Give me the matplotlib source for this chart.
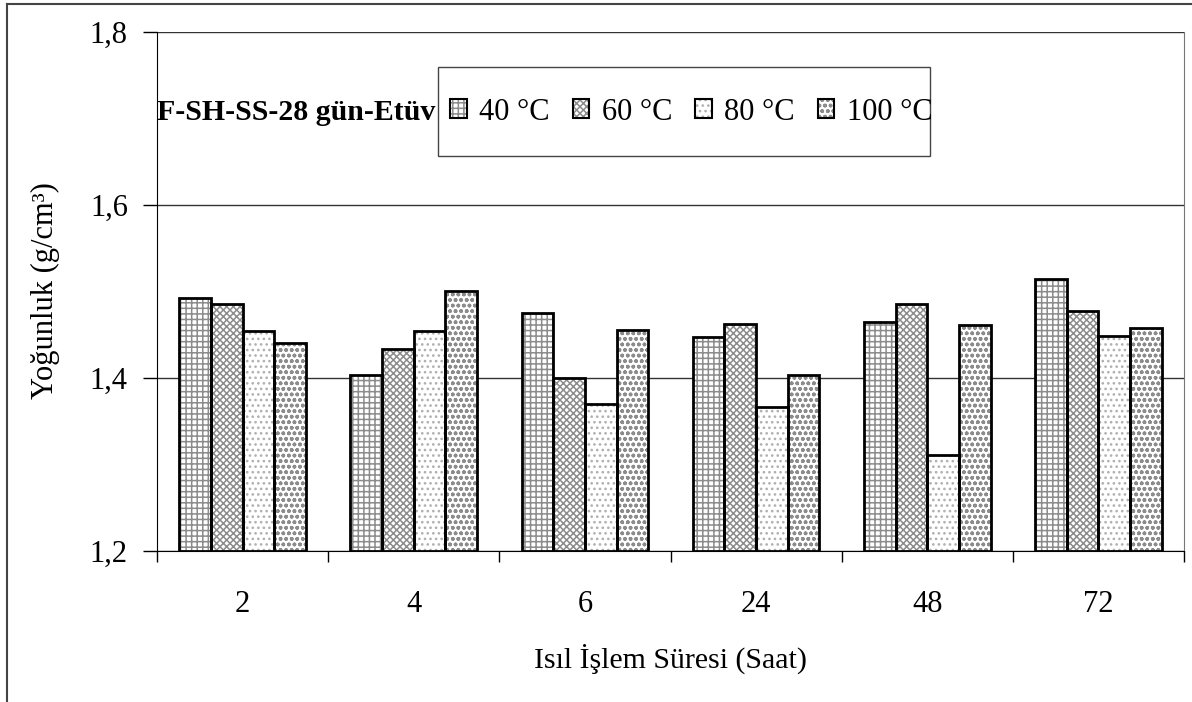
import numpy as np
import matplotlib
matplotlib.use("Agg")
import matplotlib.pyplot as plt
from matplotlib.patches import Rectangle, Patch
from matplotlib.lines import Line2D

plt.rcParams['font.family'] = ['Liberation Serif', 'DejaVu Serif']
plt.rcParams['hatch.linewidth'] = 1.1

# data
saat = ['2', '4', '6', '24', '48', '72']
seriler = ['40 °C', '60 °C', '80 °C', '100 °C']
t40 = [1.493, 1.403, 1.475, 1.447, 1.465, 1.514]
t60 = [1.486, 1.433, 1.400, 1.463, 1.486, 1.477]
t80 = [1.454, 1.454, 1.370, 1.366, 1.311, 1.449]
t100 = [1.440, 1.500, 1.456, 1.403, 1.461, 1.458]
degerler = [t40, t60, t80, t100]

# look of each series: hatch, hatch colour
desen = [('+++', '#8c8c8c'), ('xxxxx', '#8c8c8c'), ('...', '#b0b0b0'), ('ooo', '#8c8c8c')]

W, H = 1192, 702
fig = plt.figure(figsize=(W / 100, H / 100), dpi=100)
ax = fig.add_axes([157 / W, 1 - 551 / H, (1184 - 157) / W, (551 - 32) / H])

x = np.arange(len(saat))
bw = 0.185
for i, vals in enumerate(degerler):
    pos = x + (i - 1.5) * bw
    h = [v - 1.2 for v in vals]
    hatch, hc = desen[i]
    ax.bar(pos, h, bw, bottom=1.2, color='white', edgecolor=hc, hatch=hatch,
           linewidth=0, zorder=2)
    ax.bar(pos, h, bw, bottom=1.2, fill=False, edgecolor='black', linewidth=2,
           zorder=3)

ax.set_xlim(-0.5, len(saat) - 0.5)
ax.set_ylim(1.2, 1.8)
ax.set_yticks([1.2, 1.4, 1.6, 1.8])
ax.set_yticklabels(['1,2', '1,4', '1,6', '1,8'])
ax.set_xticks(x)
ax.set_xticklabels(saat)
ax.set_xticks(np.arange(len(saat) + 1) - 0.5, minor=True)
ax.tick_params(axis='x', which='major', length=0, pad=28, labelsize=22)
ax.tick_params(axis='x', which='minor', length=8, width=1, direction='out')
ax.tick_params(axis='y', length=10, width=1, pad=11, labelsize=22)

ax.yaxis.grid(True, color='#333333', linewidth=1)
ax.set_axisbelow(True)
ax.spines['top'].set_visible(False)
ax.spines['right'].set_color('#777777')
ax.spines['left'].set_color('black')
ax.spines['bottom'].set_color('black')

fig.text(45 / W, 1 - 291 / H, 'Yoğunluk (g/cm³)', rotation=90, fontsize=22,
         ha='center', va='center')
fig.text(671 / W, 1 - 659 / H, 'Isıl İşlem Süresi (Saat)', fontsize=21.5,
         ha='center', va='center')

# title left of legend box
fig.text(157 / W, 1 - 112 / H, 'F-SH-SS-28 gün-Etüv', fontsize=21.5,
         fontweight='bold', ha='left', va='center')

# legend box
fig.patches.append(Rectangle((438 / W, 1 - 156 / H), (930 - 438) / W, (156 - 67) / H,
                             transform=fig.transFigure, fill=False,
                             edgecolor='#444444', linewidth=1))
handles = [(Patch(facecolor='white', edgecolor=desen[i][1], hatch=desen[i][0], linewidth=0),
            Patch(fill=False, edgecolor='black', linewidth=1.5)) for i in range(4)]
fig.legend(handles, seriler, loc='center left', bbox_to_anchor=(450 / W, 1 - 112 / H),
           ncol=4, frameon=False, fontsize=22, handlelength=0.55, handleheight=0.55,
           handletextpad=0.4, columnspacing=0.75, borderpad=0, borderaxespad=0)

# outer chart frame
fig.add_artist(Line2D([7 / W, 1], [1 - 4 / H, 1 - 4 / H], transform=fig.transFigure,
                      color='#444444', linewidth=1.5))
fig.add_artist(Line2D([7 / W, 7 / W], [0, 1 - 4 / H], transform=fig.transFigure,
                      color='#444444', linewidth=1.5))

fig.savefig('out.png', dpi=100)
